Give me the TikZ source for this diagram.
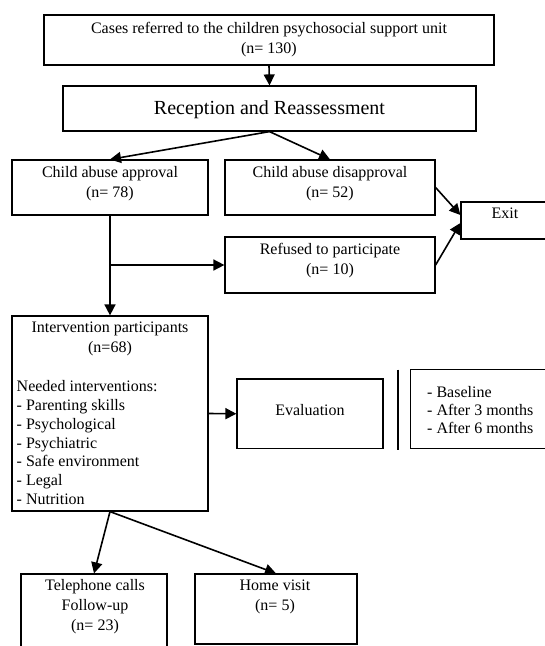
\documentclass[tikz,border=0pt]{standalone}
\usepackage{fontspec}
\setmainfont{Liberation Serif}
\usetikzlibrary{arrows.meta,positioning}

\tikzset{
	box/.style={draw, line width=1.2pt, inner sep=0pt},
	txt/.style={align=center, inner sep=0pt, font=\fontsize{16}{20}\selectfont},
	lst/.style={align=left, inner sep=0pt, font=\fontsize{16}{18.9}\selectfont},
	arr/.style={-{Triangle[length=11pt,width=11pt]}, line width=1.6pt},
}

\begin{document}
\begin{tikzpicture}[x=1pt,y=-1pt]
			\useasboundingbox (0,0) rectangle (545,646);
			\clip (0,0) rectangle (545,646);
			\begin{scope}
				% boxes
				\node[box, minimum width=450pt, minimum height=50pt] (cases) at (269,40) {};
				\node[box, minimum width=413pt, minimum height=45pt] (recep) at (269.5,108.5) {};
				\node[box, minimum width=196pt, minimum height=55pt] (appr) at (110,187.5) {};
				\node[box, minimum width=210pt, minimum height=55pt] (disap) at (330,187.5) {};
				\node[box, minimum width=88pt, minimum height=37pt] (exitb) at (505,220.5) {};
				\node[box, minimum width=210pt, minimum height=56pt] (refused) at (330,265) {};
				\node[box, minimum width=196pt, minimum height=195pt] (interv) at (110,413.5) {};
				\node[box, minimum width=146pt, minimum height=69.5pt] (eval) at (310,413.75) {};
				\node[box, minimum width=149pt, minimum height=79pt] (basel) at (485,409) {};
				\node[box, minimum width=146pt, minimum height=86pt] (phone) at (94,617) {};
				\node[box, minimum width=162pt, minimum height=70pt] (home) at (276,609) {};

				% texts
				\node[txt] (casestxt) at (269,40) {Cases referred to the children psychosocial support unit\\(n= 130)};
				\node[txt, font=\fontsize{20}{24}\selectfont] (receptxt) at (269.5,110) {Reception and Reassessment};
				\node[txt] (apprtxt) at (110,184) {Child abuse approval\\(n= 78)};
				\node[txt] (disaptxt) at (330,183.5) {Child abuse disapproval\\(n= 52)};
				\node[txt] (exittxt) at (505,213) {Exit};
				\node[txt] (refusedtxt) at (330,261) {Refused to participate\\(n= 10)};
				\node[txt] (intervtxt) at (110,339) {Intervention participants\\(n=68)};
				\node[lst, anchor=north west] (needtxt) at (16.5,380) {Needed interventions:\\- Parenting skills\\- Psychological\\- Psychiatric\\- Safe environment\\- Legal\\- Nutrition};
				\node[txt] (evaltxt) at (310,410) {Evaluation};
				\node[lst, font=\fontsize{16}{18.3}\selectfont, anchor=west] (baseltxt) at (427,410) {- Baseline\\- After 3 months\\- After 6 months};
				\node[txt] (phonetxt) at (95,607) {Telephone calls\\Follow-up\\(n= 23)};
				\node[txt] (hometxt) at (275,597) {Home visit\\(n= 5)};

				% separator before the time points
				\coordinate (septop) at (398,369.5);
				\coordinate (sepbot) at (398,449.5);
				\draw[line width=1.2pt] (septop) -- (sepbot);

				% connectors
				\draw[arr] (cases.south) -- (recep.north);
				\draw[arr] (recep.south) -- (appr.north);
				\draw[arr] (recep.south) -- (disap.north);
				\draw[arr] (appr.south) -- (interv.north);
				\coordinate (fork) at (110,265);
				\draw[arr] (fork) -- (refused.west); % rifiuto
				\draw[arr] (disap.east) -- ([yshift=5.5pt]exitb.west);
				\draw[arr] (refused.east) -- ([yshift=-2.5pt]exitb.west);
				\draw[arr] (interv.east) -- (eval.west);
				\draw[arr] (interv.south) -- (phone.north);
				\draw[arr] (interv.south) -- (home.north);
			\end{scope}
		\end{tikzpicture}
\end{document}
